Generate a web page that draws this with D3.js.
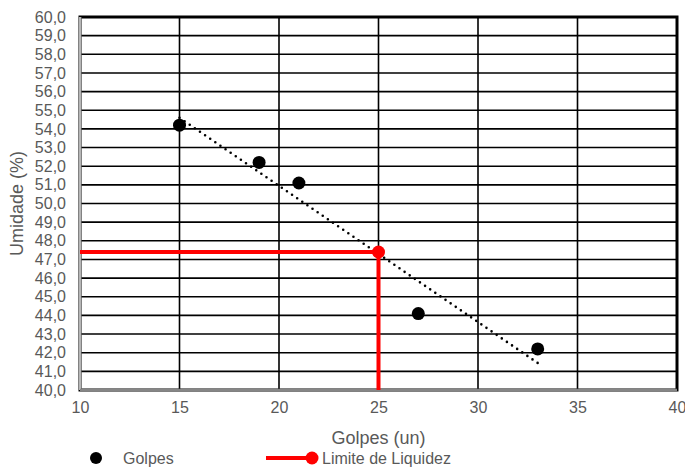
<!DOCTYPE html>
<html>
<head>
<meta charset="utf-8">
<script src="https://cdn.jsdelivr.net/npm/d3@7"></script>
<style>
  body { margin: 0; background: #fff; }
  text { font-family: "Liberation Sans", Arial, sans-serif; fill: #595959; }
</style>
</head>
<body>
<div id="chart"></div>
<script>
// data
var golpes = [15, 19, 21, 27, 33];
var umidade = [54.2, 52.2, 51.1, 44.1, 42.2];
var trendX = [15, 33];
var trendY = [54.6, 41.45];
var llGolpes = 25;
var llUmidade = 47.4;
var xTicks = [10, 15, 20, 25, 30, 35, 40];
var yTicks = d3.range(40, 61, 1);

var width = 685, height = 468;
var margin = {top: 17, right: 8, bottom: 78, left: 80};
var drawWidth = width - margin.left - margin.right;
var drawHeight = height - margin.top - margin.bottom;

var svg = d3.select('#chart').append('svg')
    .attr('width', width)
    .attr('height', height);

var xScale = d3.scaleLinear().domain([10, 40]).range([0, drawWidth]);
var yScale = d3.scaleLinear().domain([40, 60]).range([drawHeight, 0]);

var g = svg.append('g')
    .attr('transform', 'translate(' + margin.left + ',' + margin.top + ')');

// gridlines
g.append('g').selectAll('line').data(yTicks.slice(1, -1)).enter().append('line')
    .attr('x1', 0).attr('x2', drawWidth)
    .attr('y1', function(d) { return yScale(d); })
    .attr('y2', function(d) { return yScale(d); })
    .attr('stroke', '#000').attr('stroke-width', 1.6);

g.append('g').selectAll('line').data(xTicks.slice(1, -1)).enter().append('line')
    .attr('y1', 0).attr('y2', drawHeight)
    .attr('x1', function(d) { return xScale(d); })
    .attr('x2', function(d) { return xScale(d); })
    .attr('stroke', '#000').attr('stroke-width', 1.6);

// plot border
g.append('rect')
    .attr('width', drawWidth).attr('height', drawHeight)
    .attr('fill', 'none').attr('stroke', '#000').attr('stroke-width', 3);

// axis lines (gray)
g.append('line').attr('x1', 0).attr('x2', 0).attr('y1', 0).attr('y2', drawHeight)
    .attr('stroke', '#868686').attr('stroke-width', 3);
g.append('line').attr('x1', 0).attr('x2', 0).attr('y1', 0).attr('y2', drawHeight)
    .attr('stroke', '#fff').attr('stroke-width', 0.8);
g.append('line').attr('x1', 0).attr('x2', drawWidth).attr('y1', drawHeight).attr('y2', drawHeight)
    .attr('stroke', '#868686').attr('stroke-width', 2.5);

// axes
var xAxis = d3.axisBottom(xScale).tickValues(xTicks).tickSize(0).tickPadding(12);
var yAxis = d3.axisLeft(yScale).tickValues(yTicks).tickSize(0).tickPadding(14)
    .tickFormat(function(d) { return d3.format('.1f')(d).replace('.', ','); });

var xg = g.append('g').attr('transform', 'translate(0,' + drawHeight + ')').call(xAxis);
var yg = g.append('g').call(yAxis);
[xg, yg].forEach(function(a) {
    a.select('.domain').remove();
    a.selectAll('text').style('font-size', '16px').attr('fill', '#595959');
});

// axis titles
svg.append('text')
    .attr('x', margin.left + drawWidth / 2).attr('y', 444)
    .attr('text-anchor', 'middle').style('font-size', '18px')
    .text('Golpes (un)');
svg.append('text')
    .attr('transform', 'translate(23,' + (margin.top + drawHeight / 2) + ') rotate(-90)')
    .attr('text-anchor', 'middle').style('font-size', '18px')
    .text('Umidade (%)');

// trendline (dotted)
var trend = trendX.map(function(x, i) { return {x: x, y: trendY[i]}; });
var line = d3.line()
    .x(function(d) { return xScale(d.x); })
    .y(function(d) { return yScale(d.y); });
g.append('path')
    .attr('d', line(trend))
    .attr('fill', 'none').attr('stroke', '#000')
    .attr('stroke-width', 2.6)
    .attr('stroke-linecap', 'round')
    .attr('stroke-dasharray', '0 6.2');

// liquid limit red lines
var ll = [{x: 10, y: llUmidade}, {x: llGolpes, y: llUmidade}, {x: llGolpes, y: 40}];
g.append('path')
    .attr('d', line(ll))
    .attr('fill', 'none').attr('stroke', '#ff0000').attr('stroke-width', 4);
g.append('circle')
    .attr('cx', xScale(llGolpes)).attr('cy', yScale(llUmidade))
    .attr('r', 6.5).attr('fill', '#ff0000');

// data points
g.selectAll('.pt').data(golpes).enter().append('circle')
    .attr('class', 'pt')
    .attr('cx', function(d) { return xScale(d); })
    .attr('cy', function(d, i) { return yScale(umidade[i]); })
    .attr('r', 6.5).attr('fill', '#000');

// legend
var lg = svg.append('g');
lg.append('circle').attr('cx', 96).attr('cy', 458).attr('r', 6).attr('fill', '#000');
lg.append('text').attr('x', 123).attr('y', 464).style('font-size', '16px').text('Golpes');
lg.append('line').attr('x1', 266).attr('x2', 312).attr('y1', 458).attr('y2', 458)
    .attr('stroke', '#ff0000').attr('stroke-width', 4);
lg.append('circle').attr('cx', 312).attr('cy', 458).attr('r', 6.5).attr('fill', '#ff0000');
lg.append('text').attr('x', 322).attr('y', 464).style('font-size', '16px').text('Limite de Liquidez');
</script>
</body>
</html>
